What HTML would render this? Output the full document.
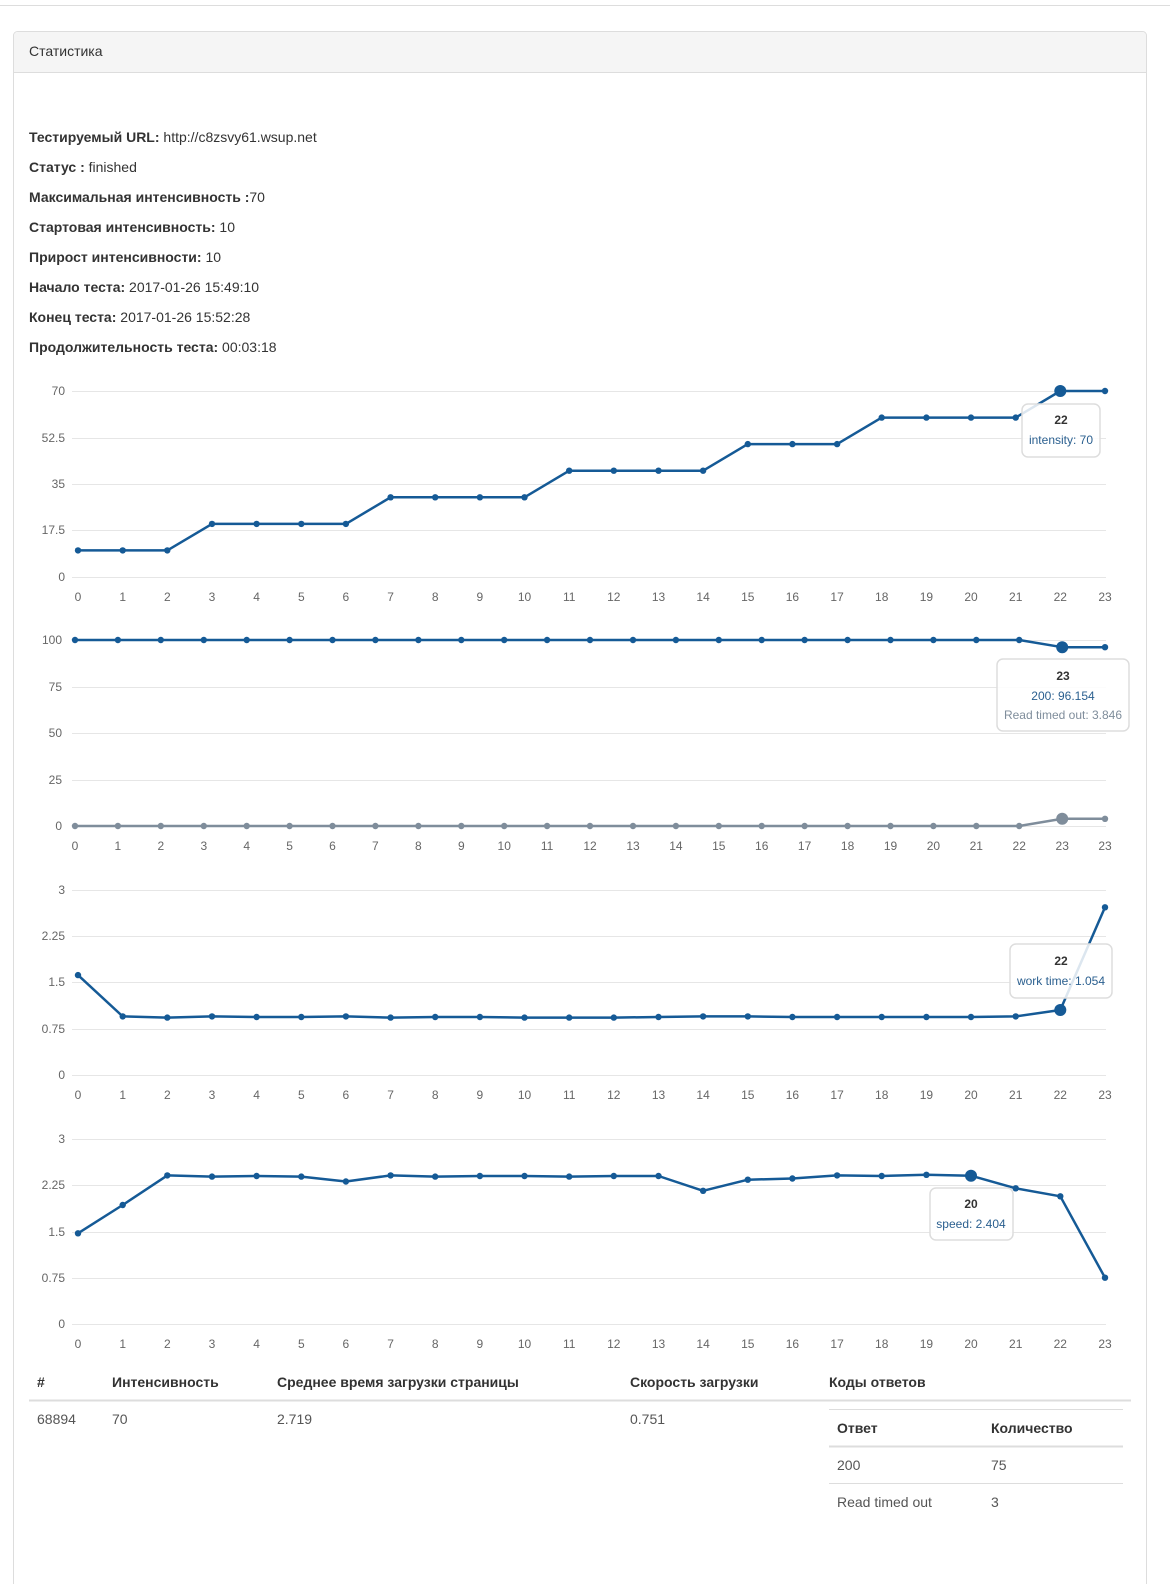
<!DOCTYPE html>
<html><head><meta charset="utf-8"><style>
html,body{margin:0;padding:0;background:#fff;width:1170px;height:1584px;overflow:hidden;font-family:"Liberation Sans",Arial,sans-serif}
svg{display:block;position:absolute;left:0;top:0}
</style></head><body>
<svg width="1170" height="1584" viewBox="0 0 1170 1584" font-family="Liberation Sans, Arial, sans-serif">
<defs>
<marker id="d" markerWidth="8" markerHeight="8" refX="4" refY="4" markerUnits="userSpaceOnUse"><circle cx="4" cy="4" r="3.2" fill="#155a96"/></marker>
<marker id="g" markerWidth="8" markerHeight="8" refX="4" refY="4" markerUnits="userSpaceOnUse"><circle cx="4" cy="4" r="3.2" fill="#7f8d9b"/></marker>
</defs>
<line x1="0" y1="5.5" x2="1170" y2="5.5" stroke="#ddd"/>
<rect x="13.5" y="31.5" width="1133" height="1600" rx="4" fill="#fff" stroke="#ddd"/>
<path d="M14 72 V36 a4 4 0 0 1 4-4 H1142 a4 4 0 0 1 4 4 V72 Z" fill="#f5f5f5"/>
<line x1="14" y1="72.5" x2="1146" y2="72.5" stroke="#ddd"/>
<text x="29" y="56" font-size="14" fill="#333">Статистика</text>
<g font-size="14" fill="#333">
<text x="29" y="142"><tspan font-weight="bold">Тестируемый URL:</tspan> http://c8zsvy61.wsup.net</text>
<text x="29" y="172"><tspan font-weight="bold">Статус :</tspan> finished</text>
<text x="29" y="202"><tspan font-weight="bold">Максимальная интенсивность :</tspan>70</text>
<text x="29" y="232"><tspan font-weight="bold">Стартовая интенсивность:</tspan> 10</text>
<text x="29" y="262"><tspan font-weight="bold">Прирост интенсивности:</tspan> 10</text>
<text x="29" y="292"><tspan font-weight="bold">Начало теста:</tspan> 2017-01-26 15:49:10</text>
<text x="29" y="322"><tspan font-weight="bold">Конец теста:</tspan> 2017-01-26 15:52:28</text>
<text x="29" y="352"><tspan font-weight="bold">Продолжительность теста:</tspan> 00:03:18</text>
</g>
<g stroke="#e6e6e6" stroke-width="1">
<line x1="72" x2="1106" y1="391.5" y2="391.5"/><line x1="72" x2="1106" y1="438.5" y2="438.5"/><line x1="72" x2="1106" y1="484.5" y2="484.5"/><line x1="72" x2="1106" y1="530.5" y2="530.5"/><line x1="72" x2="1106" y1="577.5" y2="577.5"/>
<line x1="72" x2="1106" y1="640.5" y2="640.5"/><line x1="72" x2="1106" y1="687.5" y2="687.5"/><line x1="72" x2="1106" y1="733.5" y2="733.5"/><line x1="72" x2="1106" y1="780.5" y2="780.5"/><line x1="72" x2="1106" y1="826.5" y2="826.5"/>
<line x1="72" x2="1106" y1="890.5" y2="890.5"/><line x1="72" x2="1106" y1="936.5" y2="936.5"/><line x1="72" x2="1106" y1="982.5" y2="982.5"/><line x1="72" x2="1106" y1="1029.5" y2="1029.5"/><line x1="72" x2="1106" y1="1075.5" y2="1075.5"/>
<line x1="72" x2="1106" y1="1139.5" y2="1139.5"/><line x1="72" x2="1106" y1="1185.5" y2="1185.5"/><line x1="72" x2="1106" y1="1232.5" y2="1232.5"/><line x1="72" x2="1106" y1="1278.5" y2="1278.5"/><line x1="72" x2="1106" y1="1324.5" y2="1324.5"/>
</g>
<g font-size="12" fill="#666" text-anchor="end">
<text x="65" y="395">70</text><text x="65" y="442">52.5</text><text x="65" y="488">35</text><text x="65" y="534">17.5</text><text x="65" y="581">0</text>
<text x="62" y="644">100</text><text x="62" y="691">75</text><text x="62" y="737">50</text><text x="62" y="784">25</text><text x="62" y="830">0</text>
<text x="65" y="894">3</text><text x="65" y="940">2.25</text><text x="65" y="986">1.5</text><text x="65" y="1033">0.75</text><text x="65" y="1079">0</text>
<text x="65" y="1143">3</text><text x="65" y="1189">2.25</text><text x="65" y="1236">1.5</text><text x="65" y="1282">0.75</text><text x="65" y="1328">0</text>
</g>
<g font-size="12" fill="#666" text-anchor="middle">
<text y="601"><tspan x="78">0</tspan><tspan x="122.7">1</tspan><tspan x="167.3">2</tspan><tspan x="212">3</tspan><tspan x="256.6">4</tspan><tspan x="301.3">5</tspan><tspan x="345.9">6</tspan><tspan x="390.6">7</tspan><tspan x="435.2">8</tspan><tspan x="479.9">9</tspan><tspan x="524.5">10</tspan><tspan x="569.2">11</tspan><tspan x="613.8">12</tspan><tspan x="658.5">13</tspan><tspan x="703.1">14</tspan><tspan x="747.8">15</tspan><tspan x="792.4">16</tspan><tspan x="837.1">17</tspan><tspan x="881.7">18</tspan><tspan x="926.4">19</tspan><tspan x="971">20</tspan><tspan x="1015.7">21</tspan><tspan x="1060.3">22</tspan><tspan x="1105">23</tspan></text>
<text y="850"><tspan x="75">0</tspan><tspan x="117.9">1</tspan><tspan x="160.8">2</tspan><tspan x="203.8">3</tspan><tspan x="246.7">4</tspan><tspan x="289.6">5</tspan><tspan x="332.5">6</tspan><tspan x="375.4">7</tspan><tspan x="418.4">8</tspan><tspan x="461.3">9</tspan><tspan x="504.2">10</tspan><tspan x="547.1">11</tspan><tspan x="590">12</tspan><tspan x="633">13</tspan><tspan x="675.9">14</tspan><tspan x="718.8">15</tspan><tspan x="761.7">16</tspan><tspan x="804.6">17</tspan><tspan x="847.6">18</tspan><tspan x="890.5">19</tspan><tspan x="933.4">20</tspan><tspan x="976.3">21</tspan><tspan x="1019.2">22</tspan><tspan x="1062.2">23</tspan><tspan x="1105">23</tspan></text>
<text y="1099"><tspan x="78">0</tspan><tspan x="122.7">1</tspan><tspan x="167.3">2</tspan><tspan x="212">3</tspan><tspan x="256.6">4</tspan><tspan x="301.3">5</tspan><tspan x="345.9">6</tspan><tspan x="390.6">7</tspan><tspan x="435.2">8</tspan><tspan x="479.9">9</tspan><tspan x="524.5">10</tspan><tspan x="569.2">11</tspan><tspan x="613.8">12</tspan><tspan x="658.5">13</tspan><tspan x="703.1">14</tspan><tspan x="747.8">15</tspan><tspan x="792.4">16</tspan><tspan x="837.1">17</tspan><tspan x="881.7">18</tspan><tspan x="926.4">19</tspan><tspan x="971">20</tspan><tspan x="1015.7">21</tspan><tspan x="1060.3">22</tspan><tspan x="1105">23</tspan></text>
<text y="1348"><tspan x="78">0</tspan><tspan x="122.7">1</tspan><tspan x="167.3">2</tspan><tspan x="212">3</tspan><tspan x="256.6">4</tspan><tspan x="301.3">5</tspan><tspan x="345.9">6</tspan><tspan x="390.6">7</tspan><tspan x="435.2">8</tspan><tspan x="479.9">9</tspan><tspan x="524.5">10</tspan><tspan x="569.2">11</tspan><tspan x="613.8">12</tspan><tspan x="658.5">13</tspan><tspan x="703.1">14</tspan><tspan x="747.8">15</tspan><tspan x="792.4">16</tspan><tspan x="837.1">17</tspan><tspan x="881.7">18</tspan><tspan x="926.4">19</tspan><tspan x="971">20</tspan><tspan x="1015.7">21</tspan><tspan x="1060.3">22</tspan><tspan x="1105">23</tspan></text>
</g>
<g fill="none" stroke="#155a96" stroke-width="2.5" stroke-linejoin="round" marker-start="url(#d)" marker-mid="url(#d)" marker-end="url(#d)">
<polyline points="78,550.4 122.7,550.4 167.3,550.4 212,523.9 256.6,523.9 301.3,523.9 345.9,523.9 390.6,497.3 435.2,497.3 479.9,497.3 524.5,497.3 569.2,470.7 613.8,470.7 658.5,470.7 703.1,470.7 747.8,444.1 792.4,444.1 837.1,444.1 881.7,417.6 926.4,417.6 971,417.6 1015.7,417.6 1060.3,391 1105,391"/>
<polyline points="75,640 117.9,640 160.8,640 203.8,640 246.7,640 289.6,640 332.5,640 375.4,640 418.4,640 461.3,640 504.2,640 547.1,640 590,640 633,640 675.9,640 718.8,640 761.7,640 804.6,640 847.6,640 890.5,640 933.4,640 976.3,640 1019.2,640 1062.2,647.2 1105,647.2"/>
<polyline points="78,975.1 122.7,1016.4 167.3,1017.6 212,1016.4 256.6,1017 301.3,1017 345.9,1016.4 390.6,1017.6 435.2,1017 479.9,1017 524.5,1017.6 569.2,1017.6 613.8,1017.6 658.5,1017 703.1,1016.4 747.8,1016.4 792.4,1017 837.1,1017 881.7,1017 926.4,1017 971,1017 1015.7,1016.4 1060.3,1010 1105,907.3"/>
<polyline points="78,1233.3 122.7,1205 167.3,1175.4 212,1176.6 256.6,1176 301.3,1176.6 345.9,1181.5 390.6,1175.4 435.2,1176.6 479.9,1176 524.5,1176 569.2,1176.6 613.8,1176 658.5,1176 703.1,1190.8 747.8,1179.7 792.4,1178.5 837.1,1175.4 881.7,1176 926.4,1174.8 971,1175.7 1015.7,1188.3 1060.3,1196.3 1105,1277.7"/>
</g>
<polyline fill="none" stroke="#7f8d9b" stroke-width="2.5" marker-start="url(#g)" marker-mid="url(#g)" marker-end="url(#g)" points="75,826 117.9,826 160.8,826 203.8,826 246.7,826 289.6,826 332.5,826 375.4,826 418.4,826 461.3,826 504.2,826 547.1,826 590,826 633,826 675.9,826 718.8,826 761.7,826 804.6,826 847.6,826 890.5,826 933.4,826 976.3,826 1019.2,826 1062.2,818.8 1105,818.8"/>
<circle cx="1060.3" cy="391" r="6" fill="#155a96"/>
<circle cx="1062.2" cy="647.2" r="6" fill="#155a96"/>
<circle cx="1062.2" cy="818.8" r="6" fill="#7f8d9b"/>
<circle cx="1060.3" cy="1010" r="6" fill="#155a96"/>
<circle cx="971" cy="1175.7" r="6" fill="#155a96"/>
<g fill="rgba(255,255,255,0.85)" stroke="#ddd" stroke-width="1.5">
<rect x="1022" y="404" width="78" height="53" rx="6"/>
<rect x="997" y="659" width="132" height="72" rx="6"/>
<rect x="1010" y="944" width="102" height="54" rx="6"/>
<rect x="930" y="1188" width="83" height="52" rx="6"/>
</g>
<g font-size="12" text-anchor="middle" fill="#333">
<text x="1061" y="424" font-weight="bold">22</text><text x="1061" y="444" fill="#2a5f8f">intensity: 70</text>
<text x="1063" y="680" font-weight="bold">23</text><text x="1063" y="700" fill="#2a5f8f">200: 96.154</text><text x="1063" y="719" fill="#7f8d9b">Read timed out: 3.846</text>
<text x="1061" y="965" font-weight="bold">22</text><text x="1061" y="985" fill="#2a5f8f">work time: 1.054</text>
<text x="971" y="1208" font-weight="bold">20</text><text x="971" y="1228" fill="#2a5f8f">speed: 2.404</text>
</g>
<g font-size="14" fill="#333">
<g font-weight="bold"><text x="37" y="1387">#</text><text x="112" y="1387">Интенсивность</text><text x="277" y="1387">Среднее время загрузки страницы</text><text x="630" y="1387">Скорость загрузки</text><text x="829" y="1387">Коды ответов</text></g>
<line x1="29" x2="1131" y1="1400.5" y2="1400.5" stroke="#ddd" stroke-width="2"/>
<g fill="#555"><text x="37" y="1424">68894</text><text x="112" y="1424">70</text><text x="277" y="1424">2.719</text><text x="630" y="1424">0.751</text></g>
<line x1="829" x2="1123" y1="1409.5" y2="1409.5" stroke="#ddd"/>
<g font-weight="bold"><text x="837" y="1433">Ответ</text><text x="991" y="1433">Количество</text></g>
<line x1="829" x2="1123" y1="1446.5" y2="1446.5" stroke="#ddd" stroke-width="2"/>
<g fill="#555"><text x="837" y="1470">200</text><text x="991" y="1470">75</text></g>
<line x1="829" x2="1123" y1="1483.5" y2="1483.5" stroke="#ddd"/>
<g fill="#555"><text x="837" y="1507">Read timed out</text><text x="991" y="1507">3</text></g>
</g>
</svg>
</body></html>
